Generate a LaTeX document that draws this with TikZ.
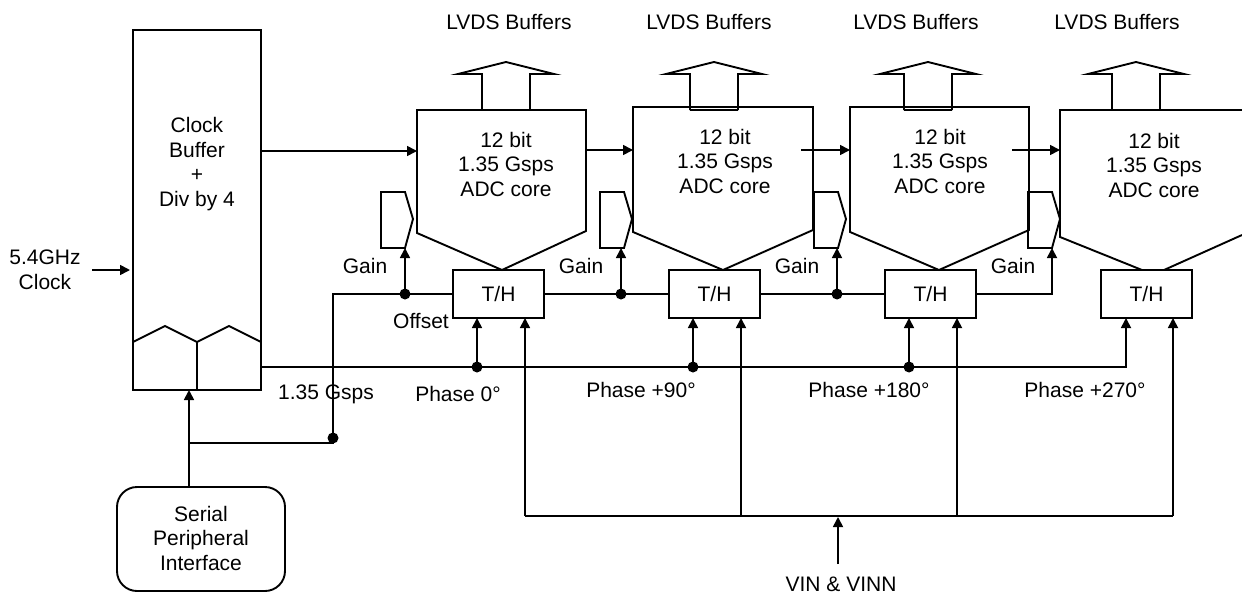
\documentclass[tikz,border=0pt]{standalone}
\usepackage{fontspec}
\setmainfont{Liberation Sans}
\usetikzlibrary{arrows.meta,positioning,calc}

\tikzset{
    every node/.style={font=\fontsize{21}{24.5}\selectfont, align=center, inner sep=0pt, outer sep=0pt},
    wire/.style={line width=1.7pt},
    arr/.style={wire, -{Triangle[length=10pt,width=10pt]}},
    blockline/.style={line width=1.9pt, line join=miter},
    thbox/.style={draw, line width=1.9pt, minimum width=91pt, minimum height=48pt},
    dot/.style={circle, fill, minimum size=11pt},
}

\begin{document}
\begin{tikzpicture}[x=1pt, y=-1pt]
    \useasboundingbox (0,0) rectangle (1242,597);

    % Horloge
    \node[draw, line width=1.9pt, minimum width=128pt, minimum height=360pt] (clkbuf) at (197,210) {};
    \node (clktext) at (197,164) {Clock\\Buffer\\+\\Div by 4};
    \draw[blockline] (133,342) -- (165,326) -- (197,342) -- (229,326) -- (261,342);
    \draw[blockline] (197,342) -- (197,390);
    \node (clkin) at (45,270) {5.4GHz\\Clock};
    \coordinate (clkstart) at (92,270);
    \coordinate (clkend) at (130,270);
    \draw[arr] (clkstart) -- (clkend);

    % Blocs ADC
    \foreach \l/\r/\t/\bl/\br/\tip/\tx/\ty/\name in {417/586/110/233/231/502/506/164/adc1, 633/813/107/232/230/723/725/161/adc2, 850/1029/107/232/230/939/940/161/adc3} {
        \draw[blockline] (\l,\t) -- (\r,\t) -- (\r,\br) -- (\tip,270) -- (\l,\bl) -- cycle;
        \coordinate (\name) at (\l,150);
        \node (\name text) at (\tx,\ty) {12 bit\\1.35 Gsps\\ADC core};
    }
    \draw[blockline] (1242,110) -- (1060,110) -- (1060,237) -- (1142,270) -- (1164,270) -- (1242,235);
    \coordinate (adc4) at (1060,150);
    \node (adc4text) at (1154,165) {12 bit\\1.35 Gsps\\ADC core};

    % Sorties LVDS
    \foreach \x/\lx/\name in {482/509/out1, 690/709/out2, 904/916/out3, 1112/1117/out4} {
        \draw[blockline] (\x,110) -- (\x,74) -- (\x-24,74) -- (\x+24,62) -- (\x+72,74) -- (\x+48,74) -- (\x+48,110);
        \node (\name) at (\lx,22) {LVDS Buffers};
    }
    \draw[blockline] (690,110) -- (738,110);
    \draw[blockline] (904,110) -- (952,110);

    % Liaisons horloge
    \coordinate (clkout) at (261,151);
    \coordinate (adc2from) at (586,150);
    \coordinate (adc3from) at (801,150);
    \coordinate (adc4from) at (1012,150);
    \draw[arr] (clkout) -- (417,151);
    \draw[arr] (adc2from) -- (adc2);
    \draw[arr] (adc3from) -- (adc3);
    \draw[arr] (adc4from) -- (adc4);

    % Blocs de gain
    \foreach \x/\name in {381/gain1, 600/gain2, 814/gain3, 1028/gain4} {
        \draw[blockline] (\x,192) -- (\x+24,192) -- (\x+32,219) -- (\x+24,248) -- (\x,248) -- cycle;
        \coordinate (\name) at (\x+24,248);
    }

    % T/H
    \foreach \x/\name in {498.5/th1, 714.5/th2, 930.5/th3, 1146.5/th4} {
        \node[thbox] (\name) at (\x,294) {T/H};
    }

    % Points de jonction
    \foreach \x/\y/\name in {405/294/g1, 621/294/g2, 837/294/g3, 477/367/p1, 693/367/p2, 909/367/p3, 333/438/spidot} {
        \node[dot] (\name) at (\x,\y) {};
    }

    % Offset et gain
    \coordinate (offcorner) at (333,294);
    \coordinate (spijoin) at (189,443);
    \draw[wire] (spijoin) -- (333,443) -- (spidot.center) -- (offcorner) -- (th1.west);
    \draw[wire] (th1.east) -- (th2.west);
    \draw[wire] (th2.east) -- (th3.west);
    \draw[arr] (th3.east) -| (gain4);
    \draw[arr] (g1) -- (gain1);
    \draw[arr] (g2) -- (621,248);
    \draw[arr] (g3) -- (837,248);

    % Phases
    \coordinate (phase) at (261,367);
    \draw[arr] (phase) -| (th4.south -| 1126,318);
    \draw[arr] (p1) -- (p1 |- th1.south);
    \draw[arr] (p2) -- (p2 |- th2.south);
    \draw[arr] (p3) -- (p3 |- th3.south);

    % Entree analogique
    \foreach \x/\name in {525/v1, 741/v2, 957/v3, 1173/v4} {
        \coordinate (\name) at (\x,516);
    }
    \draw[wire] (v1) -- (v4);
    \draw[arr] (v1) -- (v1 |- th1.south);
    \draw[arr] (v2) -- (v2 |- th2.south);
    \draw[arr] (v3) -- (v3 |- th3.south);
    \draw[arr] (v4) -- (v4 |- th4.south);
    \node (vin) at (841,584) {VIN \& VINN};
    \draw[arr] (838,564) -- (838,517);

    % SPI
    \node[draw, line width=1.9pt, rounded corners=20pt, minimum width=168pt, minimum height=104pt] (spi) at (201,539) {};
    \node (spitext) at (201,538) {Serial\\Peripheral\\Interface};
    \draw[arr] (spijoin |- spi.north) -- (spijoin |- clkbuf.south);

    % Labels
    \foreach \x/\y/\txt/\name in {365/266/Gain/lg1, 581/266/Gain/lg2, 797/266/Gain/lg3, 1013/266/Gain/lg4, 421/321/Offset/loff, 326/394/1.35 Gsps/lrate, 458/394/Phase 0°/lp0, 641/390/Phase +90°/lp90, 869/390/Phase +180°/lp180, 1085/390/Phase +270°/lp270} {
        \node (\name) at (\x,\y) {\txt};
    }
\end{tikzpicture}
\end{document}
